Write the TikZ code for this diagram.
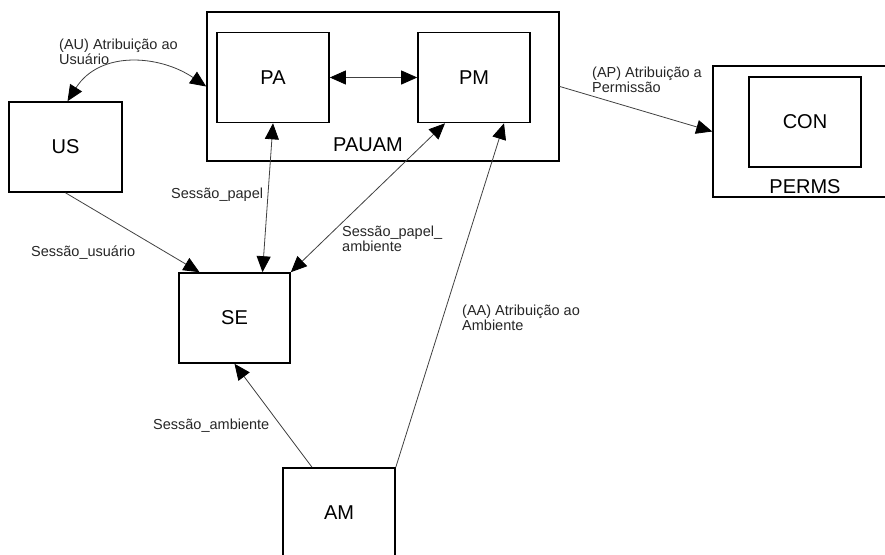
\documentclass[tikz,border=0pt]{standalone}
\usepackage{fontspec}
\setmainfont{Liberation Sans}
\usepackage{tikz}
\usetikzlibrary{shapes,arrows,arrows.meta,positioning}
\tikzstyle{block} = [rectangle, draw, line width=1.6pt, minimum width=112pt,
    minimum height=90pt, font=\fontsize{20}{22}\selectfont]
\tikzstyle{group} = [rectangle, draw, line width=1.6pt, inner sep=0pt]
\tikzstyle{tag} = [inner sep=0pt, anchor=west, align=left,
    font=\fontsize{14.5}{13.5}\selectfont, text=black!85]
\tikzstyle{grouptag} = [inner sep=0pt, font=\fontsize{20}{22}\selectfont]
\tikzstyle{line} = [draw, line width=0.8pt, black!75, ->]
\tikzstyle{dline} = [draw, line width=0.8pt, black!75, <->]

\begin{document}
\begin{tikzpicture}[x=1pt, y=-1pt, node distance = 201pt,
    >={Triangle[length=16pt,width=14pt,fill=black,color=black]}]
    \useasboundingbox (0,0) rectangle (885,554);
    % Place nodes
    \node [group, minimum width=352pt, minimum height=149pt] (pauam) at (383,86.5) {};
    \node [grouptag] (pauamtag) at (368,145) {PAUAM};
    \node [block] (pa) at (273,77.5) {PA};
    \node [block, right of=pa] (pm) {PM};
    \node [group, minimum width=184pt, minimum height=131pt] (perms) at (805,131.5) {};
    \node [grouptag] (permstag) at (805,187) {PERMS};
    \node [block] (con) at (805,122) {CON};
    \node [block, minimum width=113pt] (us) at (65.5,147) {US};
    \node [block, minimum width=111pt] (se) at (234.5,318) {SE};
    \node [block] (am) at (339,513) {AM};
    % Place labels
    \node [tag] (autag) at (59,52) {(AU) Atribuição ao\\Usuário};
    \node [tag] (aptag) at (592,80) {(AP) Atribuição a\\Permissão};
    \node [tag] (sptag) at (171,195) {Sessão\_papel};
    \node [tag] (spatag) at (342,239) {Sessão\_papel\_\\ambiente};
    \node [tag] (sutag) at (31,253) {Sessão\_usuário};
    \node [tag] (aatag) at (462,318) {(AA) Atribuição ao\\Ambiente};
    \node [tag] (satag) at (153,426) {Sessão\_ambiente};
    % Draw edges
    \path [dline] ([xshift=2pt]us.north) .. controls (100,50) and (160,55) .. (pauam.west);
    \path [dline] (pa.east) -- (pm.west);
    \path [line] (pauam.east) -- (perms.west);
    \path [line] (us.south) -- ([xshift=-35pt]se.north);
    \path [dline] (pa.south) -- ([xshift=28pt]se.north);
    \path [dline] ([xshift=-29pt]pm.south) -- (se.north east);
    \path [line] (am.north east) -- ([xshift=30pt]pm.south);
    \path [line] ([xshift=-27pt]am.north) -- (se.south);
\end{tikzpicture}
\end{document}
